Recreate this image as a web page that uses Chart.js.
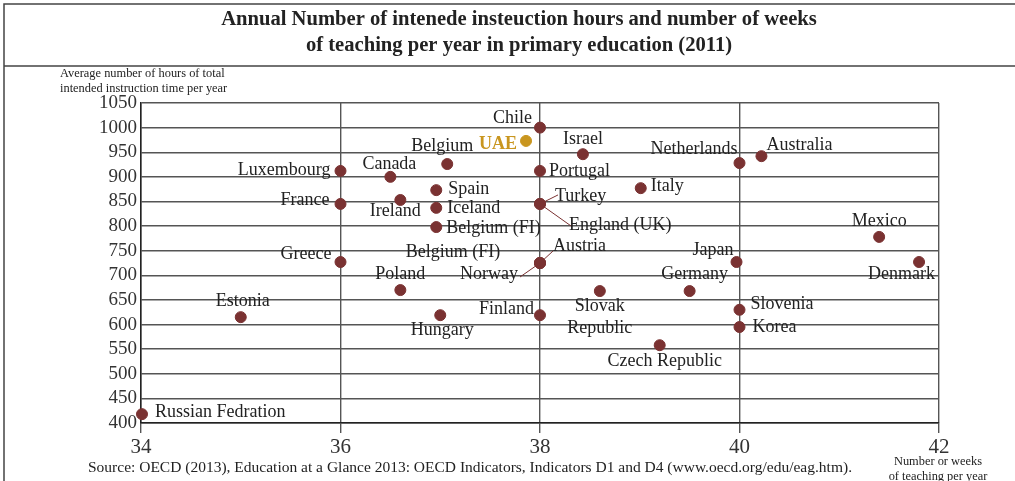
<!DOCTYPE html>
<html>
<head>
<meta charset="utf-8">
<script src="https://cdn.jsdelivr.net/npm/chart.js@4.4.1/dist/chart.umd.min.js"></script>
<style>
  html, body { margin: 0; padding: 0; background: #fff; }
  #wrap { position: relative; width: 1015px; height: 481px; }
</style>
</head>
<body>
<div id="wrap"><canvas id="myChart"></canvas></div>
<script>
// Data: weeks of teaching (x) and hours of instruction (y)
const countries = ["Chile", "UAE", "Israel", "Netherlands", "Australia", "Belgium", "Luxembourg",
  "Canada", "Portugal", "Spain", "Italy", "Ireland", "Iceland", "Turkey", "England (UK)", "France",
  "Belgium (FI)", "Austria", "Norway", "Belgium (FI) ", "Greece", "Japan", "Mexico", "Denmark",
  "Poland", "Germany", "Slovak Republic", "Hungary", "Finland", "Slovenia", "Korea",
  "Czech Republic", "Estonia", "Russian Fedration"];
const weeks = [38, 37.86, 38.43, 40, 40.22, 37.07, 36,
  36.5, 38, 36.96, 39.01, 36.6, 36.96, 38, 38, 36,
  36.96, 38, 38, 38, 36, 39.97, 41.4, 41.8,
  36.6, 39.5, 38.6, 37, 38, 40, 40,
  39.2, 35, 34.01];
const hours = [1000, 973, 946, 928, 942, 926, 912,
  900, 912, 873, 877, 853, 837, 845, 845, 845,
  798, 725, 725, 725, 727, 727, 778, 727,
  670, 668, 668, 619, 619, 630, 595,
  558, 615, 418];
const highlight = "UAE";
const yTicks = [400, 450, 500, 550, 600, 650, 700, 750, 800, 850, 900, 950, 1000, 1050];
const xTicks = [34, 36, 38, 40, 42];

const titleLines = ["Annual Number of intenede insteuction hours and number of weeks",
  "of teaching per year in primary education (2011)"];
const yTitle = ["Average number of hours of total", "intended instruction time per year"];
const xTitle = ["Number or weeks", "of teaching per year"];
const source = "Source: OECD (2013), Education at a Glance 2013: OECD Indicators, Indicators D1 and D4 (www.oecd.org/edu/eag.htm).";

// label placement relative to each point (pixels), kept apart from the data
const place = {
  "Chile": { dx: -8, dy: -9, align: "right" },
  "UAE": { dx: -9, dy: 3, align: "right" },
  "Israel": { dx: 0, dy: -15, align: "center" },
  "Netherlands": { dx: -2, dy: -14, align: "right" },
  "Australia": { dx: 5, dy: -11, align: "left" },
  "Belgium": { dx: -5, dy: -18, align: "center" },
  "Luxembourg": { dx: -10, dy: -1, align: "right" },
  "Canada": { dx: -1, dy: -13, align: "center" },
  "Portugal": { dx: 9, dy: 0, align: "left" },
  "Spain": { dx: 12, dy: -1, align: "left" },
  "Italy": { dx: 10, dy: -2, align: "left" },
  "Ireland": { dx: -5, dy: 11, align: "center" },
  "Iceland": { dx: 11, dy: 0, align: "left" },
  "Turkey": { dx: 15, dy: -8, align: "left", line: [18, -9] },
  "England (UK)": { dx: 29, dy: 21, align: "left", line: [31, 22] },
  "France": { dx: -11, dy: -4, align: "right" },
  "Belgium (FI)": { dx: 10, dy: 1, align: "left" },
  "Austria": { dx: 13, dy: -17, align: "left", line: [13, -12] },
  "Norway": { dx: -22, dy: 11, align: "right", line: [-20, 14] },
  "Belgium (FI) ": { dx: -87, dy: -11, align: "center" },
  "Greece": { dx: -9, dy: -8, align: "right" },
  "Japan": { dx: -3, dy: -12, align: "right" },
  "Mexico": { dx: 0, dy: -16, align: "center" },
  "Denmark": { dx: 16, dy: 12, align: "right" },
  "Poland": { dx: 0, dy: -16, align: "center" },
  "Germany": { dx: 5, dy: -17, align: "center" },
  "Slovak Republic": { dx: 0, dy: 15, align: "center", split: true },
  "Hungary": { dx: 2, dy: 15, align: "center" },
  "Finland": { dx: -6, dy: -6, align: "right" },
  "Slovenia": { dx: 11, dy: -6, align: "left" },
  "Korea": { dx: 13, dy: 0, align: "left" },
  "Czech Republic": { dx: 5, dy: 16, align: "center" },
  "Estonia": { dx: 2, dy: -16, align: "center" },
  "Russian Fedration": { dx: 13, dy: -2, align: "left" }
};

const maroon = "#7a3232";
const gold = "#c9961f";
const serif = "'Liberation Serif', 'Times New Roman', serif";

const points = weeks.map((w, i) => ({ x: w, y: hours[i] }));
const colors = countries.map((c) => (c === highlight ? gold : maroon));

// draws country labels, leader lines, title box and captions
const decor = {
  id: "decor",
  afterDatasetsDraw(chart) {
    const c = chart.ctx;
    const meta = chart.getDatasetMeta(0);
    c.save();
    c.textBaseline = "middle";
    countries.forEach((name, i) => {
      const p = meta.data[i];
      const o = place[name] || { dx: 8, dy: 0, align: "left" };
      if (o.line) {
        c.strokeStyle = maroon;
        c.lineWidth = 1;
        c.beginPath();
        c.moveTo(p.x, p.y);
        c.lineTo(p.x + o.line[0], p.y + o.line[1]);
        c.stroke();
      }
      if (name === highlight) {
        c.font = "bold 18px " + serif;
        c.fillStyle = gold;
      } else {
        c.font = "18px " + serif;
        c.fillStyle = "#222";
      }
      c.textAlign = o.align;
      const text = name.trim();
      if (o.split) {
        const parts = text.split(" ");
        c.fillText(parts[0], p.x + o.dx, p.y + o.dy);
        c.fillText(parts[1], p.x + o.dx, p.y + o.dy + 22);
      } else {
        c.fillText(text, p.x + o.dx, p.y + o.dy);
      }
    });
    c.restore();
  },
  afterDraw(chart) {
    const c = chart.ctx;
    c.save();
    // title frame
    c.strokeStyle = "#444";
    c.lineWidth = 1.5;
    c.beginPath();
    c.moveTo(1015, 4);
    c.lineTo(4, 4);
    c.lineTo(4, 481);
    c.moveTo(4, 66);
    c.lineTo(1015, 66);
    c.stroke();

    c.fillStyle = "#222";
    c.textAlign = "center";
    c.textBaseline = "middle";
    c.font = "bold 20.6px " + serif;
    c.fillText(titleLines[0], 519, 20);
    c.fillText(titleLines[1], 519, 46);

    c.textAlign = "left";
    c.font = "12.4px " + serif;
    c.fillText(yTitle[0], 60, 74);
    c.fillText(yTitle[1], 60, 89);

    c.textAlign = "center";
    c.font = "12.4px " + serif;
    c.fillText(xTitle[0], 938, 462);
    c.fillText(xTitle[1], 938, 477);

    c.font = "15.5px " + serif;
    c.fillText(source, 470, 468);
    c.restore();
  }
};

const ctx = document.getElementById("myChart");
new Chart(ctx, {
  type: "scatter",
  data: {
    datasets: [{
      data: points,
      backgroundColor: colors,
      borderColor: colors,
      pointRadius: 5.5,
      pointHoverRadius: 5.5,
      clip: false
    }]
  },
  plugins: [decor],
  options: {
    responsive: true,
    maintainAspectRatio: false,
    animation: false,
    layout: { padding: { left: 0, right: 76, top: 103, bottom: 0 } },
    plugins: { legend: { display: false }, tooltip: { enabled: false } },
    scales: {
      x: {
        type: "linear",
        min: 34,
        max: 42,
        afterFit(scale) { scale.height = 58; },
        afterBuildTicks(scale) { scale.ticks = xTicks.map((v) => ({ value: v })); },
        grid: { color: "#555", lineWidth: 1.4, tickLength: 10, drawOnChartArea: true },
        border: { color: "#222", width: 1.5 },
        ticks: {
          color: "#333", font: { family: serif, size: 21 }, padding: 2,
          autoSkip: false, maxRotation: 0, callback: (v) => String(v)
        }
      },
      y: {
        min: 400,
        max: 1050,
        afterFit(scale) { scale.width = 141; },
        afterBuildTicks(scale) { scale.ticks = yTicks.map((v) => ({ value: v })); },
        grid: { color: "#555", lineWidth: 1.4, drawTicks: false },
        border: { color: "#222", width: 1.5 },
        ticks: {
          color: "#333", font: { family: serif, size: 19 }, padding: 4,
          autoSkip: false, callback: (v) => String(v)
        }
      }
    }
  }
});
</script>
</body>
</html>
